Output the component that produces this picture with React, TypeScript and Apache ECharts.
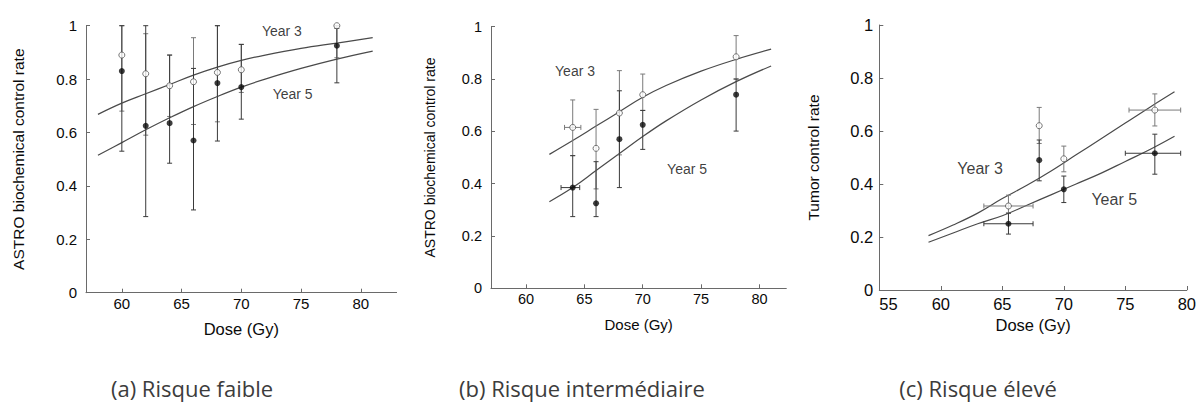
import React, { useEffect, useRef } from "react";
import * as echarts from "echarts";

// ---------- Panel (a) Risque faible ----------
const doseA = [60, 62, 64, 66, 68, 70, 78];
const y3A = [0.89, 0.82, 0.775, 0.79, 0.825, 0.835, 1.0];
const y3LoA = [0.68, 0.59, 0.66, 0.63, 0.64, 0.75, 0.88];
const y3HiA = [1.0, 0.97, 0.89, 0.955, 1.0, 0.93, 1.0];
const y5A = [0.83, 0.625, 0.635, 0.57, 0.785, 0.77, 0.925];
const y5LoA = [0.53, 0.285, 0.485, 0.31, 0.568, 0.65, 0.786];
const y5HiA = [1.0, 1.0, 0.89, 0.84, 1.0, 0.93, 0.99];
const curveDoseA = [58, 60, 62, 64, 66, 68, 70, 72, 75, 78, 81];
const curve3A = [0.668, 0.71, 0.745, 0.78, 0.815, 0.845, 0.87, 0.89, 0.915, 0.935, 0.955];
const curve5A = [0.515, 0.562, 0.61, 0.655, 0.697, 0.735, 0.77, 0.8, 0.84, 0.875, 0.905];

// ---------- Panel (b) Risque intermédiaire ----------
const doseB = [64, 66, 68, 70, 78];
const y3B = [0.615, 0.535, 0.67, 0.74, 0.885];
const y3LoB = [0.507, 0.38, 0.51, 0.68, 0.8];
const y3HiB = [0.72, 0.684, 0.832, 0.819, 0.966];
const y3XLoB = [63.3, 66, 68, 70, 78];
const y3XHiB = [64.7, 66, 68, 70, 78];
const y5B = [0.385, 0.325, 0.57, 0.625, 0.74];
const y5LoB = [0.274, 0.274, 0.385, 0.531, 0.601];
const y5HiB = [0.507, 0.484, 0.755, 0.68, 0.8];
const y5XLoB = [63.0, 66, 68, 70, 78];
const y5XHiB = [64.6, 66, 68, 70, 78];
const curveDoseB = [62, 64, 66, 68, 70, 72, 75, 78, 81];
const curve3B = [0.512, 0.565, 0.62, 0.675, 0.73, 0.775, 0.83, 0.875, 0.914];
const curve5B = [0.331, 0.385, 0.45, 0.515, 0.58, 0.64, 0.72, 0.79, 0.85];

// ---------- Panel (c) Risque élevé ----------
const doseC = [65.5, 68, 70, 77.4];
const y3C = [0.317, 0.62, 0.495, 0.679];
const y3LoC = [0.29, 0.553, 0.446, 0.619];
const y3HiC = [0.358, 0.689, 0.543, 0.74];
const y3XLoC = [63.5, 68, 70, 75.3];
const y3XHiC = [67.5, 68, 70, 79.5];
const y5C = [0.25, 0.49, 0.38, 0.516];
const y5LoC = [0.211, 0.412, 0.33, 0.437];
const y5HiC = [0.29, 0.566, 0.43, 0.588];
const y5XLoC = [63.5, 68, 70, 75.0];
const y5XHiC = [67.5, 68, 70, 79.5];
const curveDoseC = [59, 61, 63, 65, 67, 69, 71, 73, 75, 77, 79];
const curve3C = [0.205, 0.245, 0.29, 0.345, 0.395, 0.45, 0.51, 0.57, 0.63, 0.69, 0.748];
const curve5C = [0.18, 0.215, 0.25, 0.28, 0.32, 0.36, 0.4, 0.44, 0.485, 0.53, 0.58];

// ---------- Texts ----------
const yTicks = [0, 0.2, 0.4, 0.6, 0.8, 1];
const xTicksAB = [60, 65, 70, 75, 80];
const xTicksC = [55, 60, 65, 70, 75, 80];
const yNames = ["ASTRO biochemical control rate", "ASTRO biochemical control rate", "Tumor control rate"];
const xName = "Dose (Gy)";
const curveLabels = ["Year 3", "Year 5"];
const labelPosA = [[73.4, 0.981], [74.3, 0.743]];
const labelPosB = [[64.2, 0.831], [73.8, 0.456]];
const labelPosC = [[63.2, 0.457], [74.1, 0.342]];
const captions = ["(a) Risque faible", "(b) Risque intermédiaire", "(c) Risque élevé"];

const AX = "#6a6a6a";
const INK = "#0a0a0a";
const FONT = "'Liberation Sans', Arial, sans-serif";

function zip(...arrs: number[][]) {
  return arrs[0].map((_, i) => arrs.map((a) => a[i]));
}

function errRender(color: string) {
  return (params: any, api: any) => {
    const x = api.value(0);
    const lo = api.value(2);
    const hi = api.value(3);
    const y = api.value(1);
    const xlo = api.value(4);
    const xhi = api.value(5);
    const a = api.coord([x, lo]);
    const b = api.coord([x, hi]);
    const c = 2.5;
    const st = { stroke: color, lineWidth: 1 };
    const children: any[] = [
      { type: "line", shape: { x1: a[0], y1: a[1], x2: b[0], y2: b[1] }, style: st },
      { type: "line", shape: { x1: a[0] - c, y1: a[1], x2: a[0] + c, y2: a[1] }, style: st },
      { type: "line", shape: { x1: b[0] - c, y1: b[1], x2: b[0] + c, y2: b[1] }, style: st },
    ];
    if (xlo !== xhi) {
      const l = api.coord([xlo, y]);
      const r = api.coord([xhi, y]);
      children.push(
        { type: "line", shape: { x1: l[0], y1: l[1], x2: r[0], y2: r[1] }, style: st },
        { type: "line", shape: { x1: l[0], y1: l[1] - c, x2: l[0], y2: l[1] + c }, style: st },
        { type: "line", shape: { x1: r[0], y1: r[1] - c, x2: r[0], y2: r[1] + c }, style: st }
      );
    }
    return { type: "group", children };
  };
}

const App: React.FC = () => {
  const ref = useRef<HTMLDivElement>(null);

  useEffect(() => {
    if (!ref.current) return;
    const chart = echarts.init(ref.current, undefined, { renderer: "svg" });

    const panels = [
      {
        grid: { left: 86, top: 25.7, width: 310.6, height: 267 },
        xmin: 57, xmax: 83, xticks: xTicksAB, tick: 15, yNameSize: 15.5, xNameSize: 16.5,
        yGap: 60, xGap: 28, yLabMargin: 9, xLabMargin: 3, annSize: 14, alignMin: "center",
        dose: doseA, y3: y3A, y3Lo: y3LoA, y3Hi: y3HiA, y3XLo: doseA, y3XHi: doseA,
        y5: y5A, y5Lo: y5LoA, y5Hi: y5HiA, y5XLo: doseA, y5XHi: doseA,
        cd: curveDoseA, c3: curve3A, c5: curve5A, ann: labelPosA,
      },
      {
        grid: { left: 491, top: 26.7, width: 295.3, height: 261.6 },
        xmin: 57, xmax: 82.3, xticks: xTicksAB, tick: 14.5, yNameSize: 14, xNameSize: 15,
        yGap: 54, xGap: 29, yLabMargin: 9, xLabMargin: 3, annSize: 14, alignMin: "center",
        dose: doseB, y3: y3B, y3Lo: y3LoB, y3Hi: y3HiB, y3XLo: y3XLoB, y3XHi: y3XHiB,
        y5: y5B, y5Lo: y5LoB, y5Hi: y5HiB, y5XLo: y5XLoB, y5XHi: y5XHiB,
        cd: curveDoseB, c3: curve3B, c5: curve5B, ann: labelPosB,
      },
      {
        grid: { left: 879.3, top: 25, width: 312.5, height: 265 },
        xmin: 55, xmax: 80, xticks: xTicksC, tick: 16.5, yNameSize: 15.5, xNameSize: 16.5,
        yGap: 58, xGap: 23, yLabMargin: 6, xLabMargin: 5, annSize: 16, alignMin: "left",
        dose: doseC, y3: y3C, y3Lo: y3LoC, y3Hi: y3HiC, y3XLo: y3XLoC, y3XHi: y3XHiC,
        y5: y5C, y5Lo: y5LoC, y5Hi: y5HiC, y5XLo: y5XLoC, y5XHi: y5XHiC,
        cd: curveDoseC, c3: curve3C, c5: curve5C, ann: labelPosC,
      },
    ];

    const grid: any[] = [];
    const xAxis: any[] = [];
    const yAxis: any[] = [];
    const series: any[] = [];

    panels.forEach((p, i) => {
      grid.push({ ...p.grid, containLabel: false });
      xAxis.push({
        type: "value",
        gridIndex: i,
        min: p.xmin,
        max: p.xmax,
        name: xName,
        nameLocation: "middle",
        nameGap: p.xGap,
        nameTextStyle: { color: INK, fontSize: p.xNameSize, fontFamily: FONT },
        splitLine: { show: false },
        axisLine: { show: true, onZero: false, lineStyle: { color: AX, width: 1 } },
        axisTick: { show: true, inside: true, length: 4, customValues: p.xticks, lineStyle: { color: AX } },
        axisLabel: {
          customValues: p.xticks,
          margin: p.xLabMargin,
          color: INK,
          fontSize: p.tick,
          fontFamily: FONT,
          showMinLabel: true,
          showMaxLabel: true,
          alignMinLabel: p.alignMin,
        },
      });
      yAxis.push({
        type: "value",
        gridIndex: i,
        min: 0,
        max: 1,
        name: yNames[i],
        nameLocation: "middle",
        nameGap: p.yGap,
        nameRotate: 90,
        nameTextStyle: { color: INK, fontSize: p.yNameSize, fontFamily: FONT },
        splitLine: { show: false },
        axisLine: { show: true, onZero: false, lineStyle: { color: AX, width: 1 } },
        axisTick: { show: true, inside: true, length: 4, customValues: yTicks, lineStyle: { color: AX } },
        axisLabel: {
          customValues: yTicks,
          margin: p.yLabMargin,
          color: INK,
          fontSize: p.tick,
          fontFamily: FONT,
          formatter: (v: number) => String(Math.round(v * 10) / 10),
        },
      });

      const lineStyle = { color: "#4a4a4a", width: 1.2 };
      series.push(
        {
          type: "line", name: "Year 3 fit", xAxisIndex: i, yAxisIndex: i,
          data: zip(p.cd, p.c3), smooth: 0.4, showSymbol: false, symbol: "none",
          lineStyle, silent: true, z: 2,
        },
        {
          type: "line", name: "Year 5 fit", xAxisIndex: i, yAxisIndex: i,
          data: zip(p.cd, p.c5), smooth: 0.4, showSymbol: false, symbol: "none",
          lineStyle, silent: true, z: 2,
        },
        {
          type: "custom", name: "Year 3 err", xAxisIndex: i, yAxisIndex: i,
          renderItem: errRender("#7a7a7a"),
          encode: { x: 0, y: 1 },
          data: zip(p.dose, p.y3, p.y3Lo, p.y3Hi, p.y3XLo, p.y3XHi),
          clip: false, z: 3, silent: true,
        },
        {
          type: "custom", name: "Year 5 err", xAxisIndex: i, yAxisIndex: i,
          renderItem: errRender("#3a3a3a"),
          encode: { x: 0, y: 1 },
          data: zip(p.dose, p.y5, p.y5Lo, p.y5Hi, p.y5XLo, p.y5XHi),
          clip: false, z: 4, silent: true,
        },
        {
          type: "scatter", name: "Year 3", xAxisIndex: i, yAxisIndex: i,
          data: zip(p.dose, p.y3), symbol: "circle", symbolSize: 6,
          itemStyle: { color: "#ffffff", borderColor: "#555", borderWidth: 1 },
          z: 5, silent: true,
        },
        {
          type: "scatter", name: "Year 5", xAxisIndex: i, yAxisIndex: i,
          data: zip(p.dose, p.y5), symbol: "circle", symbolSize: 6,
          itemStyle: { color: "#0d0d0d" },
          z: 6, silent: true,
        },
        {
          type: "scatter", name: "labels", xAxisIndex: i, yAxisIndex: i,
          data: p.ann.map((pt, k) => ({ value: pt, name: curveLabels[k] })),
          symbolSize: 0,
          label: {
            show: true, position: "inside", formatter: "{b}",
            color: INK, fontSize: p.annSize, fontFamily: FONT,
          },
          z: 7, silent: true,
        }
      );
    });

    const captionX = [192, 582, 978];
    const graphic = captions.map((t, i) => ({
      type: "text",
      x: captionX[i],
      y: 388,
      style: {
        text: t,
        fill: "#3c3c3c",
        fontSize: 22,
        fontFamily: "'Open Sans', 'Noto Sans', sans-serif",
        textAlign: "center",
        textVerticalAlign: "middle",
      },
    }));

    chart.setOption({
      animation: false,
      backgroundColor: "#ffffff",
      grid,
      xAxis,
      yAxis,
      series,
      graphic,
    });

    return () => chart.dispose();
  }, []);

  return (
    <div
      ref={ref}
      style={{ position: "absolute", left: 0, top: 0, width: 1199, height: 403 }}
    />
  );
};

export default App;
